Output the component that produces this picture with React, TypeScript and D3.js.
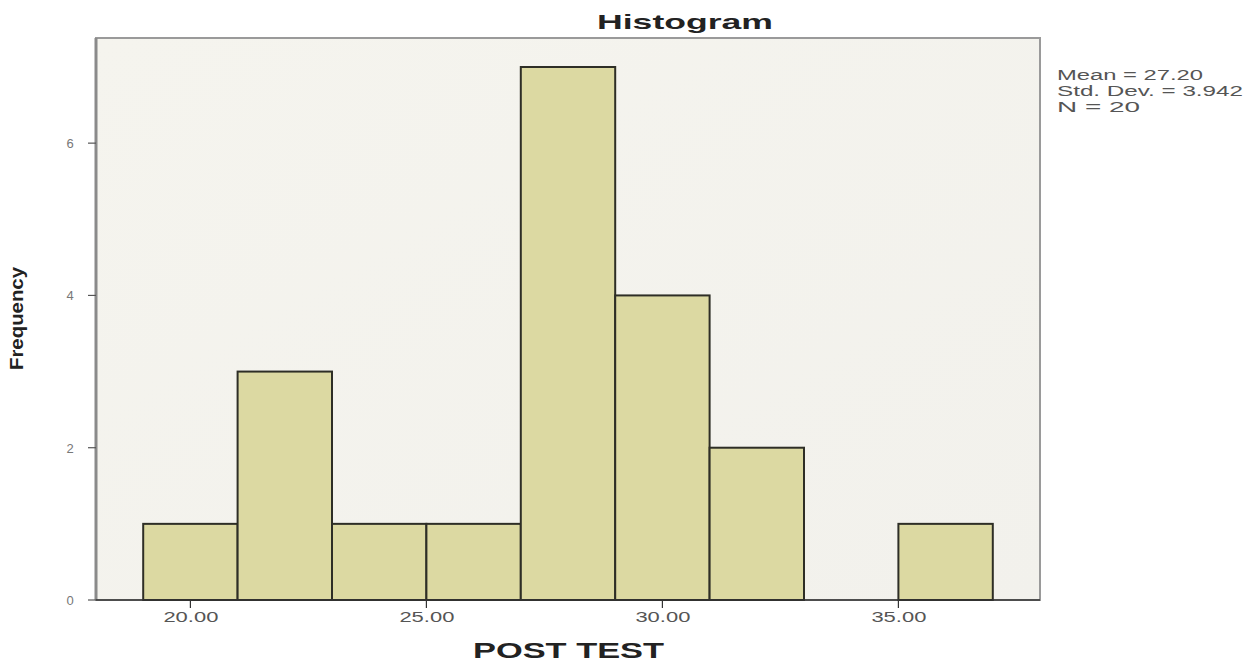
import React from "react";
import * as d3 from "d3";

const binStarts = [19, 21, 23, 25, 27, 29, 31, 33, 35];
const binWidth = 2;
const frequencies = [1, 3, 1, 1, 7, 4, 2, 0, 1];
const xTicks = [20, 25, 30, 35];
const yTicks = [0, 2, 4, 6];
const stats = ["Mean = 27.20", "Std. Dev. = 3.942", "N = 20"];
const statWidths = [146, 186, 83];

export default function App() {
  const W = 1248, H = 663;
  const left = 96, right = 1040, top = 38, bottom = 600;
  const x = d3.scaleLinear().domain([18, 38]).range([left, right]);
  const y = d3.scaleLinear().domain([0, 7]).range([bottom, 67]);
  const font = "Liberation Sans, Arial, sans-serif";
  return (
    <svg width={W} height={H} style={{ position: "absolute", left: 0, top: 0, background: "#fff" }}>
      <defs>
        <linearGradient id="bg" x1="0" y1="0" x2="1" y2="1">
          <stop offset="0" stopColor="#f5f4ee" />
          <stop offset="1" stopColor="#f2f1ec" />
        </linearGradient>
      </defs>
      <rect x={left} y={top} width={right - left} height={bottom - top} fill="url(#bg)" stroke="#9a9a9a" strokeWidth={2} />
      {binStarts.map((b, i) =>
        frequencies[i] > 0 ? (
          <rect key={i} x={x(b)} y={y(frequencies[i])} width={x(b + binWidth) - x(b)} height={bottom - y(frequencies[i])}
            fill="#dcd9a2" stroke="#2e2e26" strokeWidth={2} />
        ) : null
      )}
      <line x1={left} x2={left} y1={top} y2={bottom} stroke="#8a8a8a" strokeWidth={3} />
      <line x1={left} x2={right} y1={bottom} y2={bottom} stroke="#333" strokeWidth={1.5} />
      {yTicks.map((t) => (
        <g key={t}>
          <line x1={left - 8} x2={left} y1={y(t)} y2={y(t)} stroke="#555" strokeWidth={1.2} />
          <text x={70} y={y(t) + 5} fontSize={13} fontFamily={font} fill="#777" textAnchor="middle">{t}</text>
        </g>
      ))}
      {xTicks.map((t) => (
        <g key={t}>
          <line x1={x(t)} x2={x(t)} y1={bottom} y2={bottom + 8} stroke="#333" strokeWidth={1.2} />
          <text x={x(t) - 27} y={bottom + 22} fontSize={14} fontFamily={font} fill="#555"
            textLength={55} lengthAdjust="spacingAndGlyphs">{t.toFixed(2)}</text>
        </g>
      ))}
      <text x={597} y={29} fontSize={21} fontWeight="bold" fontFamily={font} fill="#222"
        textLength={176} lengthAdjust="spacingAndGlyphs">Histogram</text>
      <text x={473} y={658} fontSize={22} fontWeight="bold" fontFamily={font} fill="#222"
        textLength={191} lengthAdjust="spacingAndGlyphs">POST TEST</text>
      <text transform={`translate(23,370) rotate(-90)`} fontSize={18} fontWeight="bold" fontFamily={font} fill="#222"
        textLength={103} lengthAdjust="spacingAndGlyphs">Frequency</text>
      {stats.map((s, i) => (
        <text key={i} x={1057} y={80 + i * 16} fontSize={14} fontFamily={font} fill="#555"
          textLength={statWidths[i]} lengthAdjust="spacingAndGlyphs">{s}</text>
      ))}
    </svg>
  );
}
